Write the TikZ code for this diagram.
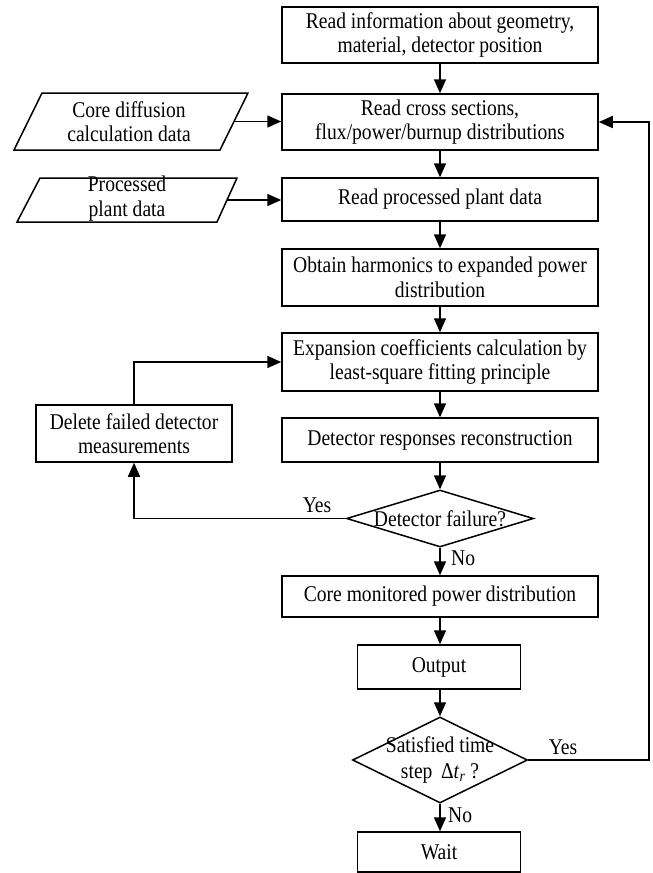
\documentclass[tikz,border=0pt]{standalone}
\usepackage{fontspec}
\setmainfont{Liberation Serif}[FakeStretch=0.87]
\usetikzlibrary{arrows.meta,shapes.geometric}
\tikzset{
  box/.style={draw, line width=1.5pt, rectangle, align=center, inner sep=0pt, minimum width=316pt},
  dia/.style={draw, line width=1.5pt, diamond, inner sep=0pt},
  txt/.style={align=center, inner sep=0pt},
  arr/.style={line width=1.5pt, -{Triangle[length=14pt,width=12pt]}},
  lbl/.style={inner sep=0pt}
}
\begin{document}
\begin{tikzpicture}[x=1pt, y=-1pt, font=\fontsize{22.5}{24.5}\selectfont]
\useasboundingbox (0,0) rectangle (653,873);
% main column
\node[box, minimum height=56pt] (b1) at (440,35) {Read information about geometry,\\material, detector position};
\node[box, minimum height=56pt] (b2) at (440,122) {Read cross sections,\\flux/power/burnup distributions};
\node[box, minimum height=43pt] (b3) at (440,199.5) {Read processed plant data};
\node[box, minimum height=57pt] (b4) at (440,277.5) {Obtain harmonics to expanded power\\distribution};
\node[box, minimum height=58pt] (b5) at (440,362) {Expansion coefficients calculation by\\least-square fitting principle};
\node[box, minimum height=44pt] (b6) at (440,440) {Detector responses reconstruction};
\node[box, minimum width=196pt, minimum height=57pt] (del) at (134,433.5) {Delete failed detector\\measurements};
\node[dia, minimum width=187pt, minimum height=57pt, label={[lbl]center:Detector failure?}] (d1) at (440,518.5) {};
\node[box, minimum height=41pt] (b7) at (440,596.5) {Core monitored power distribution};
\node[box, minimum width=163pt, minimum height=44pt] (out) at (439,667) {Output};
\node[dia, minimum width=175pt, minimum height=86pt, label={[lbl, align=center, font=\fontsize{22.5}{26}\selectfont]center:{Satisfied time\\step \,Δ\textit{t}\textsubscript{\textit{r}} ?}}] (d2) at (440,760) {};
\node[box, minimum width=163pt, minimum height=40pt] (wait) at (439,852) {Wait};
% input parallelograms
\node[txt] (p1) at (129,121.5) {Core diffusion\\calculation data};
\draw[line width=1.5pt] (42,93) -- (248,93) -- (220,150) -- (14,150) -- cycle;
\coordinate (p1e) at (234,121.5);
\node[txt] (p2) at (127,198.5) {Processed\\plant data};
\draw[line width=1.5pt] (40,178) -- (237,178) -- (217,222) -- (17,222) -- cycle;
\coordinate (p2e) at (227,200);
% connectors
\draw[arr] (b1) -- (b2);
\draw[arr] (b2) -- (b3);
\draw[arr] (b3) -- (b4);
\draw[arr] (b4) -- (b5);
\draw[arr] (b5) -- (b6);
\draw[arr] (b6) -- (d1);
\draw[arr] (d1) -- (b7);
\draw[arr] (b7) -- (out.north -| b7.south);
\draw[arr] (out.south -| d2.north) -- (d2);
\draw[arr] (d2) -- (wait.north -| d2.south);
\draw[arr] (p1e) -- (p1e -| b2.west);
\draw[arr] (p2e) -- (p2e -| b3.west);
\draw[arr] (del.north) |- (b5.west);
\draw[arr] (d1.west) -| (del.south);
\coordinate (rt) at (649,122);
\draw[arr] (d2.east) -| (rt) -- (b2.east);
% labels
\node[lbl] (y1) at (317,505) {Yes};
\node[lbl, anchor=west] (n1) at (451,558) {No};
\node[lbl] (y2) at (563,747) {Yes};
\node[lbl, anchor=west] (n2) at (448,815) {No};
\end{tikzpicture}
\end{document}
